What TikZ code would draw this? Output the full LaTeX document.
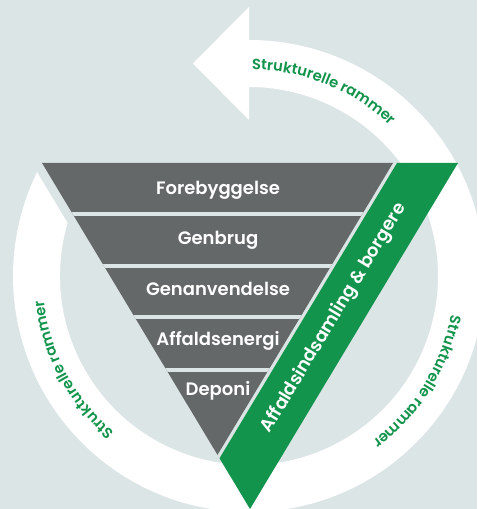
\documentclass[tikz,border=0pt]{standalone}
\usepackage{fontspec}
\setmainfont{Poppins}[UprightFont=* Medium, BoldFont=* SemiBold]
\usetikzlibrary{decorations.text}
\definecolor{bgcol}{HTML}{DCE5E6}
\definecolor{greycol}{HTML}{646869}
\definecolor{greencol}{HTML}{13944C}
\newcommand{\ringfont}{\fontsize{14.8}{15}\selectfont\bfseries}
\begin{document}
\begin{tikzpicture}[x=1pt,y=1pt,
  lbl/.style={text=white,font=\fontsize{18}{18}\selectfont\bfseries},
  sep/.style={bgcol,line width=4pt},
  ring/.style={decorate,decoration={text along path,text color=greencol,text align=center,text={|\ringfont|Strukturelle rammer}}}]
\fill[bgcol] (0,0) rectangle (477,509);
\useasboundingbox (0,0) rectangle (477,509);
\begin{scope}[shift={(249,233)}]
\fill[white] (90:236) arc[start angle=90,end angle=-206.1,radius=236] -- (-196.3:189) arc[start angle=-196.3,end angle=90,radius=189] -- cycle;
\fill[white] (0,269) -- (0,156) -- (-56,212.5) -- cycle;
\path[ring] (118:206.5) arc[start angle=118,end angle=18,radius=206.5];
\path[ring] (258:206.5) arc[start angle=258,end angle=158,radius=206.5];
\path[ring] (18:206.5) arc[start angle=18,end angle=-82,radius=206.5];
\end{scope}
\fill[greycol] (42,346) -- (393,346) -- (217.5,54.1) -- cycle;
\begin{scope}
\clip (42,346) -- (393,346) -- (217.5,54.1) -- cycle;
\draw[sep] (0,295.3) -- (477,295.3);
\draw[sep] (0,243.4) -- (477,243.4);
\draw[sep] (0,191.5) -- (477,191.5);
\draw[sep] (0,138.5) -- (477,138.5);
\end{scope}
\fill[greencol] (397,346) -- (458,346) -- (250,0) -- (219.5,50.7) -- cycle;
\node[lbl,anchor=base] (fore) at (218,314.7) {Forebyggelse};
\node[lbl,anchor=base] (genb) at (218,264) {Genbrug};
\node[lbl,anchor=base] (gena) at (218,213.5) {Genanvendelse};
\node[lbl,anchor=base] (aff) at (218,163) {Affaldsenergi};
\node[lbl,anchor=base] (dep) at (218,113.3) {Deponi};
\node[lbl,rotate=59] (borg) at (334,191) {Affaldsindsamling \& borgere};
\end{tikzpicture}
\end{document}
